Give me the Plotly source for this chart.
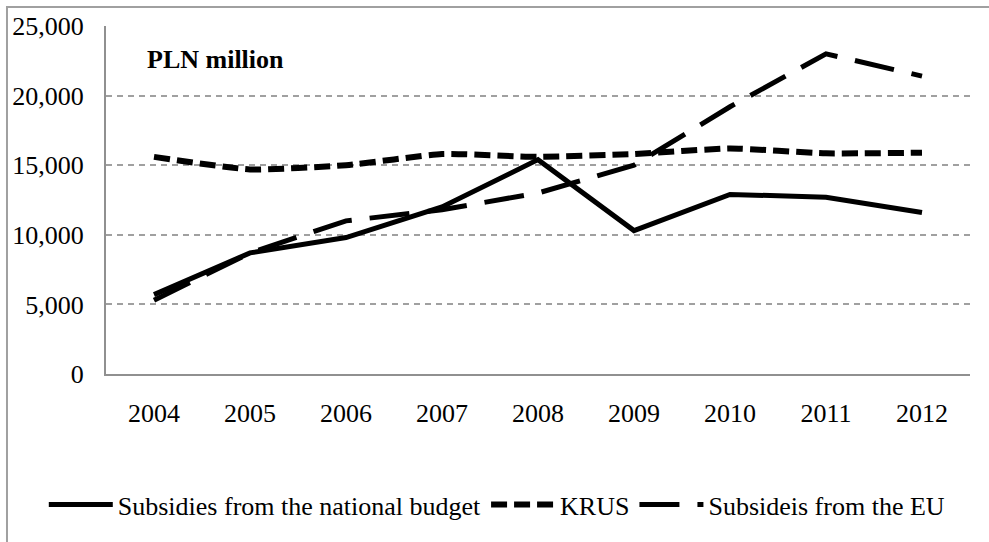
import plotly.graph_objects as go

years = ["2004", "2005", "2006", "2007", "2008", "2009", "2010", "2011", "2012"]
national = [5700, 8700, 9800, 12000, 15400, 10300, 12900, 12700, 11600]
krus = [15600, 14700, 15000, 15800, 15600, 15800, 16200, 15850, 15900]
eu = [5300, 8700, 11000, 11800, 13000, 15000, 19200, 23000, 21400]
series_names = ["Subsidies from the national budget", "KRUS", "Subsideis from the EU"]
y_ticks = [0, 5000, 10000, 15000, 20000, 25000]
y_tick_text = ["0", "5,000", "10,000", "15,000", "20,000", "25,000"]

FONT = "Liberation Serif, Times New Roman, serif"

fig = go.Figure()
fig.add_trace(go.Scatter(x=years, y=national, name=series_names[0], mode="lines",
                         line=dict(color="black", width=5)))
fig.add_trace(go.Scatter(x=years, y=krus, name=series_names[1], mode="lines",
                         line=dict(color="black", width=6, dash="16px,7px", shape="spline", smoothing=0.5)))
fig.add_trace(go.Scatter(x=years, y=eu, name=series_names[2], mode="lines",
                         line=dict(color="black", width=5, dash="40px,18px")))

fig.update_layout(
    width=989, height=542,
    margin=dict(l=106, r=19, t=26, b=168, autoexpand=False),
    paper_bgcolor="white", plot_bgcolor="white",
    font=dict(family=FONT, size=26, color="black"),
    showlegend=True,
    legend=dict(orientation="h", x=-0.072, xanchor="left", y=-0.375, yanchor="middle",
                font=dict(family=FONT, size=26), itemwidth=64, tracegroupgap=0,
                bgcolor="rgba(0,0,0,0)"),
    annotations=[dict(text="<b>PLN million</b>", xref="paper", yref="paper",
                      x=0.045, y=0.905, xanchor="left", yanchor="middle",
                      showarrow=False, font=dict(family=FONT, size=26))],
    shapes=[dict(type="rect", xref="paper", yref="paper",
                 x0=-0.1146, y0=-0.7, x1=1.2, y1=1.0546,
                 line=dict(color="#a0a0a0", width=2), layer="below")],
)
fig.update_xaxes(type="category", range=[-0.5, 8.5], showgrid=False,
                 showline=True, linecolor="#909090", linewidth=2,
                 ticks="", ticklabelstandoff=15, tickfont=dict(size=26))
fig.update_yaxes(range=[0, 25000], tickvals=y_ticks, ticktext=y_tick_text,
                 showgrid=True, gridcolor="#a0a0a0", griddash="6px,5px", gridwidth=1.5,
                 showline=True, linecolor="#909090", linewidth=2, zeroline=False,
                 ticks="", ticklabelstandoff=15, tickfont=dict(size=26))

fig.write_html("out.html", config={"displayModeBar": False},
               post_script="document.body.style.margin='0';")
